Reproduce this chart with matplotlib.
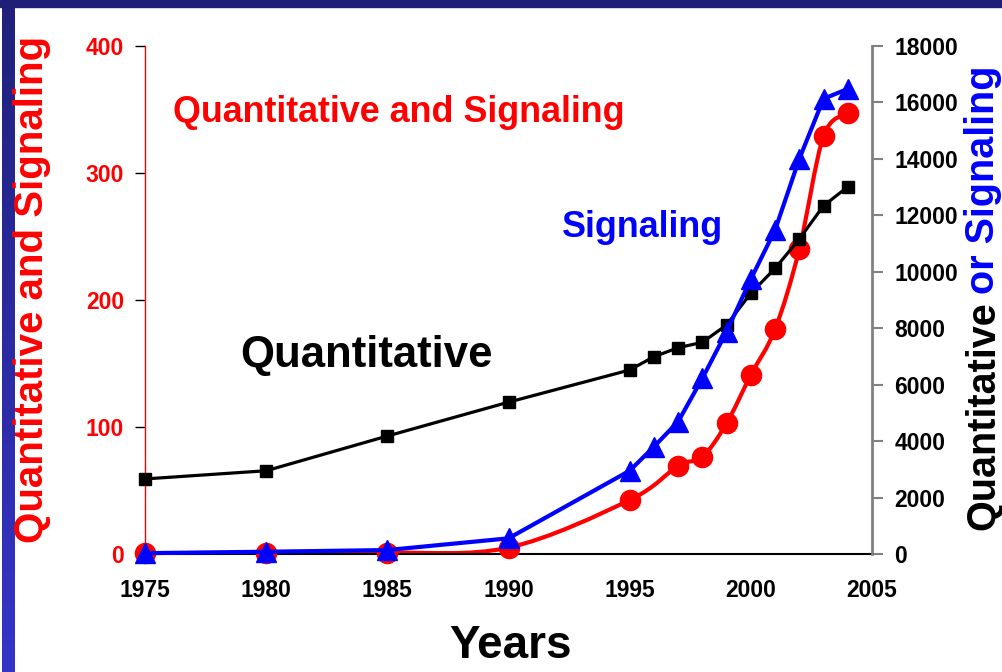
import numpy as np
import matplotlib
matplotlib.use("Agg")
import matplotlib.pyplot as plt
from matplotlib.path import Path
from matplotlib.patches import PathPatch, Rectangle
from matplotlib.colors import LinearSegmentedColormap

plt.rcParams['font.family'] = ['Liberation Sans', 'DejaVu Sans']
plt.rcParams['font.weight'] = 'bold'

# -------------------------------------------------------------------------------
# Data
# -------------------------------------------------------------------------------

# Quantitative and Signaling (left axis, red)
years_both = [1975, 1980, 1985, 1990, 1995, 1997, 1998, 1999, 2000, 2001, 2002, 2003, 2004]
count_both = [0.5, 1, 1, 5, 42.5, 69.5, 76.5, 103, 141, 177, 240, 329, 347]

# Quantitative (right axis, black)
years_quant = [1975, 1980, 1985, 1990, 1995, 1996, 1997, 1998, 1999, 2000, 2001, 2002, 2003, 2004]
count_quant = [2660, 2950, 4180, 5380, 6520, 6990, 7310, 7500, 8115, 9240, 10120, 11160, 12340, 13010]

# Signaling (right axis, blue)
years_sig = [1975, 1980, 1985, 1990, 1995, 1996, 1997, 1998, 1999, 2000, 2001, 2002, 2003, 2004]
count_sig = [30, 80, 140, 555, 2950, 3800, 4690, 6225, 7880, 9740, 11480, 14000, 16130, 16480]

x_ticks = [1975, 1980, 1985, 1990, 1995, 2000, 2005]
left_ticks = [0, 100, 200, 300, 400]
right_ticks = list(range(0, 18001, 2000))

W, H = 1002, 672

# -------------------------------------------------------------------------------
# Helpers
# -------------------------------------------------------------------------------

def smooth_path(x, y):
    # Excel style smoothed line: cubic bezier through every point
    pts = np.column_stack([x, y]).astype(float)
    n = len(pts)
    verts = [pts[0]]
    codes = [Path.MOVETO]
    for i in range(n - 1):
        p0 = pts[max(i - 1, 0)]
        p1 = pts[i]
        p2 = pts[i + 1]
        p3 = pts[min(i + 2, n - 1)]
        verts += [p1 + (p2 - p0) / 6, p2 - (p3 - p1) / 6, p2]
        codes += [Path.CURVE4] * 3
    return Path(verts, codes)

def fx(px):
    return px / W

def fy(py):
    return 1 - py / H

# -------------------------------------------------------------------------------
# Figure
# -------------------------------------------------------------------------------

fig = plt.figure(figsize=(W / 100, H / 100), dpi=100)
fig.patch.set_facecolor('white')

# slide border: top bar and gradient strip on the left
fig.patches.append(Rectangle((0, fy(7)), 1, 7 / H, transform=fig.transFigure,
                             color='#1f1f78', zorder=0))
band = fig.add_axes([fx(2), 0, fx(13), fy(7)])
grad = np.linspace(0, 1, 256).reshape(-1, 1)
cmap = LinearSegmentedColormap.from_list('band', ['#21217c', '#3535c8'])
band.imshow(grad, aspect='auto', cmap=cmap)
band.axis('off')

ax1 = fig.add_axes([fx(145), fy(554), fx(872 - 145), (554 - 46) / H])
ax2 = ax1.twinx()

# red smoothed curve + circles
ax1.add_patch(PathPatch(smooth_path(years_both, count_both), facecolor='none',
                        edgecolor='#ff0000', lw=3.0, zorder=2))
ax1.plot(years_both, count_both, ls='none', marker='o', ms=14.5,
         color='#ff0000', zorder=3, clip_on=False)

# black and blue on the right axis
ax2.plot(years_quant, count_quant, color='black', lw=2.3, marker='s', ms=8.5,
         clip_on=False, zorder=3)
ax2.plot(years_sig, count_sig, color='#0000ff', lw=3.0, marker='^', ms=14,
         clip_on=False, zorder=4)

ax1.set_xlim(1975, 2005)
ax1.set_ylim(0, 400)
ax2.set_ylim(0, 18000)
ax1.set_xticks(x_ticks)
ax1.set_yticks(left_ticks)
ax2.set_yticks(right_ticks)

for s in ['top', 'right']:
    ax1.spines[s].set_visible(False)
ax1.spines['left'].set_color('#ff0000')
ax1.spines['left'].set_linewidth(1.0)
ax1.spines['bottom'].set_color('black')
ax1.spines['bottom'].set_linewidth(1.5)
for s in ['top', 'left', 'bottom']:
    ax2.spines[s].set_visible(False)
ax2.spines['right'].set_color('#808080')
ax2.spines['right'].set_linewidth(2.0)

ax1.tick_params(axis='x', length=0, pad=18, labelsize=16.5, labelcolor='black')
ax1.tick_params(axis='y', direction='out', length=7, width=1, color='black',
                pad=8, labelsize=16.5, labelcolor='#ff0000')
ax2.tick_params(axis='y', direction='out', length=8, width=1.5, color='#808080',
                pad=8, labelsize=16.5, labelcolor='black')
for lab in ax1.get_xticklabels() + ax1.get_yticklabels() + ax2.get_yticklabels():
    lab.set_fontweight('bold')

# -------------------------------------------------------------------------------
# Text
# -------------------------------------------------------------------------------

fig.text(fx(399), fy(122), 'Quantitative and Signaling', color='#ff0000',
         fontsize=25.8, fontweight='bold', ha='center', va='baseline')
fig.text(fx(643), fy(237), 'Signaling', color='#0000ff',
         fontsize=25.8, fontweight='bold', ha='center', va='baseline')
fig.text(fx(367), fy(367), 'Quantitative', color='black',
         fontsize=31.5, fontweight='bold', ha='center', va='baseline')
fig.text(fx(510), fy(658), 'Years', color='black',
         fontsize=33, fontweight='bold', ha='center', va='baseline')

# left axis title
fig.text(fx(32), fy(289), 'Quantitative and Signaling', color='#ff0000',
         fontsize=29, fontweight='bold', rotation=90, ha='center', va='center')

# right axis title in two colours
t1 = fig.text(fx(983), fy(530), 'Quantitative', color='black',
              fontsize=28.5, fontweight='bold', rotation=90, ha='center', va='bottom')
ax1.annotate('or Signaling', xy=(0.5, 1), xycoords=t1, xytext=(0, 5),
             textcoords='offset points', color='#0000ff', fontsize=28.5,
             fontweight='bold', rotation=90, ha='center', va='bottom',
             annotation_clip=False)

fig.savefig('out.png', dpi=100)
